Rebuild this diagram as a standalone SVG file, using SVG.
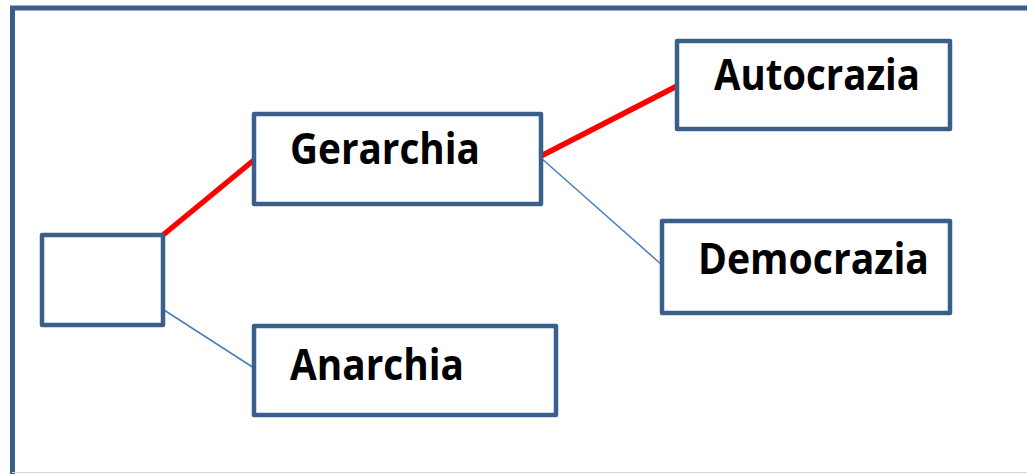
<svg xmlns="http://www.w3.org/2000/svg" width="1027" height="474" viewBox="0 0 1027 474">
<style>
.box{fill:#fff;stroke:#3A5F8B;stroke-width:4.5;stroke-linejoin:round}
.lbl{font-family:"Open Sans","Liberation Sans",sans-serif;font-weight:700;font-size:43px;fill:#000}
.hot{stroke:#FF0000;stroke-width:5.5;fill:none}
.thin{stroke:#4A7EBB;stroke-width:1.5;fill:none}
</style>
<rect width="1027" height="474" fill="#fff"/>
<path d="M12.5,474 V8 H1030" fill="none" stroke="#3A5F8B" stroke-width="5"/>
<line x1="12" y1="472.5" x2="1027" y2="472.5" stroke="#D0D7E0" stroke-width="1"/>
<g id="connectors">
<line class="hot" x1="163" y1="235" x2="254" y2="160"/>
<line class="hot" x1="541" y1="156" x2="677" y2="86"/>
<line class="thin" x1="164" y1="310" x2="254" y2="368"/>
<line class="thin" x1="541" y1="158" x2="662" y2="265"/>
</g>
<g id="root"><rect class="box" x="42" y="235" width="121" height="90"/></g>
<g id="gerarchia"><rect class="box" x="254" y="114" width="287" height="90"/><text class="lbl" x="290" y="164" textLength="190" lengthAdjust="spacingAndGlyphs">Gerarchia</text></g>
<g id="anarchia"><rect class="box" x="254" y="326" width="302" height="89"/><text class="lbl" x="290" y="380" textLength="174" lengthAdjust="spacingAndGlyphs">Anarchia</text></g>
<g id="autocrazia"><rect class="box" x="677" y="41" width="273" height="88"/><text class="lbl" x="714" y="90" textLength="206" lengthAdjust="spacingAndGlyphs">Autocrazia</text></g>
<g id="democrazia"><rect class="box" x="662" y="221" width="288" height="92"/><text class="lbl" x="698" y="274" textLength="231" lengthAdjust="spacingAndGlyphs">Democrazia</text></g>
</svg>
